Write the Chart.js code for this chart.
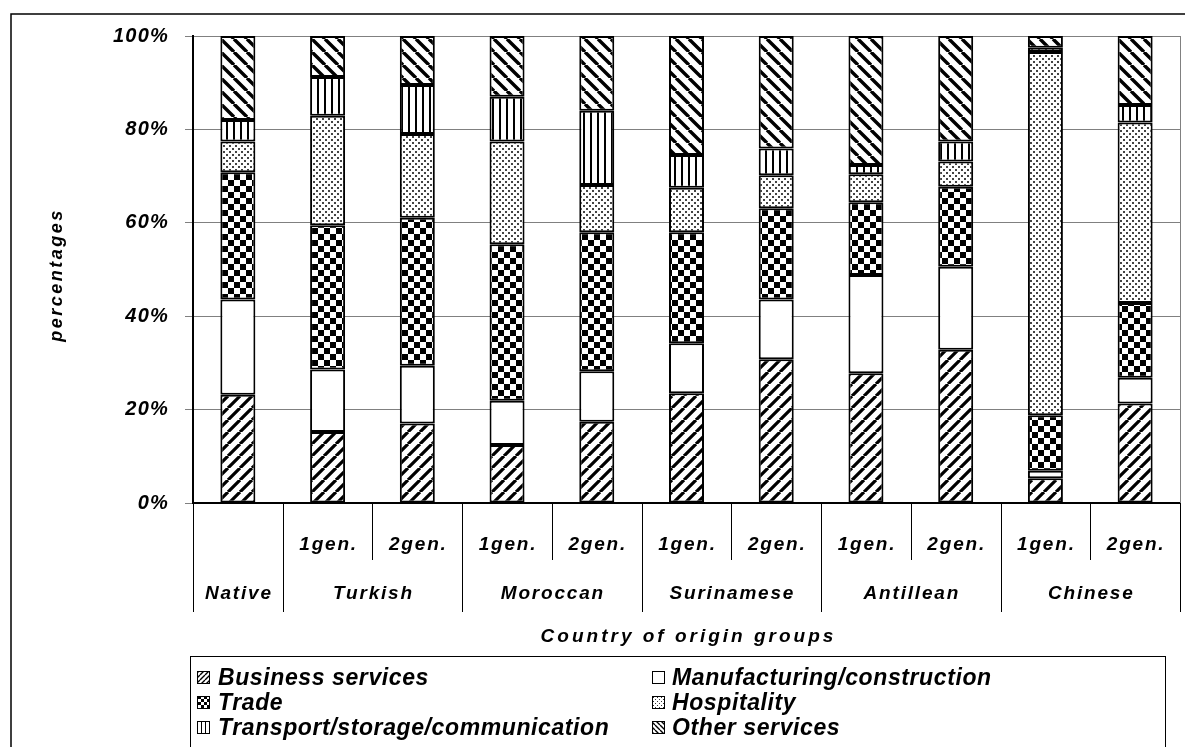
<!DOCTYPE html>
<html><head><meta charset="utf-8">
<script src="https://cdn.jsdelivr.net/npm/chart.js@4"></script>
<style>html,body{margin:0;padding:0;background:#fff}canvas{display:block}</style>
</head><body>
<canvas id="c" width="1185" height="747"></canvas>
<script>
// ---- data ----
const categories = ['Native','Turkish 1gen.','Turkish 2gen.','Moroccan 1gen.','Moroccan 2gen.','Surinamese 1gen.','Surinamese 2gen.','Antillean 1gen.','Antillean 2gen.','Chinese 1gen.','Chinese 2gen.'];
const generationLabels = ['', '1gen.', '2gen.', '1gen.', '2gen.', '1gen.', '2gen.', '1gen.', '2gen.', '1gen.', '2gen.'];
const groupLabels = ['Native','Turkish','Moroccan','Surinamese','Antillean','Chinese'];
const groupSizes = [1,2,2,2,2,2];
const seriesNames = ['Business services','Manufacturing/construction','Trade','Hospitality','Transport/storage/communication','Other services'];
const businessServices = [23.2,15.2,17.0,12.4,17.4,23.5,30.8,27.8,32.8,5.3,21.3];
const manufacturing    = [20.4,13.4,12.4,9.5,10.8,10.7,12.8,21.0,17.8,1.6,5.5];
const trade            = [27.2,30.9,31.7,33.5,29.8,23.8,19.5,15.6,17.1,11.9,16.0];
const hospitality      = [6.6,23.4,17.9,22.0,10.1,9.5,7.1,6.0,5.4,77.8,38.7];
const transport        = [4.6,8.3,10.5,9.6,15.9,7.0,5.7,2.0,4.3,0.9,3.7];
const otherServices    = [18.0,8.8,10.5,13.0,16.0,25.5,24.1,27.6,22.6,2.5,14.8];
const yTickStep = 20;
const xAxisTitle = 'Country of origin groups';
const yAxisTitle = 'percentages';

// ---- patterns ----
const cv = document.getElementById('c');
const ctx0 = cv.getContext('2d');
function tile(w,h,draw){const c=document.createElement('canvas');c.width=w;c.height=h;const g=c.getContext('2d');g.fillStyle='#fff';g.fillRect(0,0,w,h);draw(g,w,h);return ctx0.createPattern(c,'repeat');}
function diag(s,lw,dir){return tile(s,s,g=>{g.strokeStyle='#000';g.lineWidth=lw;g.beginPath();for(let k=-1;k<=1;k++){if(dir>0){g.moveTo(k*s,s);g.lineTo(k*s+s,0);}else{g.moveTo(k*s,0);g.lineTo(k*s+s,s);}}g.stroke();});}
function checker(c){return tile(2*c,2*c,g=>{g.fillStyle='#000';g.fillRect(0,0,c,c);g.fillRect(c,c,c,c);});}
function dots(s,d,col){return tile(s,s,g=>{g.fillStyle=col;g.fillRect(1,1,d,d);g.fillRect(1+s/2,1+s/2,d,d);});}
function vlines(s,lw){return tile(s,s,g=>{g.fillStyle='#000';g.fillRect(Math.floor(s/2)-1,0,lw,s);});}
function plain(){return '#ffffff';}
const barFills = [diag(12,3.2,1), plain(), checker(6), dots(6,2,'#444'), vlines(7,2), diag(13,3.4,-1)];
const legendFills = [diag(5,1.4,1), plain(), checker(3), dots(4,1,'#333'), vlines(4,1), diag(5,1.4,-1)];
const seriesData = [businessServices, manufacturing, trade, hospitality, transport, otherServices];

const FONT = '"Liberation Sans", Arial, sans-serif';
function f(size){return 'italic bold '+size+'px '+FONT;}

const decor = {
  id:'decor',
  beforeDraw(chart){ chart.ctx.letterSpacing='1.2px'; },
  afterDraw(chart){
    const {ctx, chartArea:a, scales:{x}} = chart;
    ctx.save();
    ctx.letterSpacing='0px';
    // outer frame
    ctx.strokeStyle='#000'; ctx.lineWidth=1.5;
    ctx.beginPath(); ctx.moveTo(11,747); ctx.lineTo(11,14); ctx.lineTo(1185,14); ctx.stroke();
    // right plot border
    ctx.strokeStyle='#808080'; ctx.lineWidth=1;
    ctx.beginPath(); ctx.moveTo(a.right+0.5,a.top); ctx.lineTo(a.right+0.5,a.bottom); ctx.stroke();
    // category dividers
    const px = i => x.getPixelForValue(i);
    const bound = i => i<=0 ? a.left : (i>=categories.length ? a.right : (px(i-1)+px(i))/2);
    ctx.strokeStyle='#000'; ctx.lineWidth=1;
    let start=0; const groupStarts=[];
    groupSizes.forEach(n=>{groupStarts.push(start); start+=n;});
    groupStarts.push(categories.length);
    for(let i=0;i<=categories.length;i++){
      const xb=Math.round(bound(i))+0.5;
      const isGroup = groupStarts.includes(i);
      ctx.beginPath(); ctx.moveTo(xb,a.bottom); ctx.lineTo(xb, isGroup?612:560); ctx.stroke();
    }
    ctx.fillStyle='#000'; ctx.textAlign='center'; ctx.textBaseline='middle';
    ctx.letterSpacing='1.8px';
    ctx.font=f(19);
    generationLabels.forEach((t,i)=>{ if(t) ctx.fillText(t, px(i)+1, 545); });
    groupLabels.forEach((t,g)=>{
      const s=groupStarts[g], e=groupStarts[g+1]-1;
      ctx.fillText(t, (px(s)+px(e))/2+1, 594);
    });
    ctx.letterSpacing='3px';
    ctx.font=f(19);
    ctx.fillText(xAxisTitle, (a.left+a.right)/2+2, 637);
    // y title
    ctx.save(); ctx.translate(57,275); ctx.rotate(-Math.PI/2);
    ctx.font=f(18); ctx.letterSpacing='2.5px';
    ctx.fillText(yAxisTitle,0,0); ctx.restore();
    // legend box
    ctx.letterSpacing='0.6px';
    ctx.strokeStyle='#000'; ctx.lineWidth=1;
    ctx.strokeRect(190.5,656.5,975,120);
    const cols=[[197,218],[652,672]], rows=[678,703,728];
    ctx.textAlign='left'; ctx.font=f(23);
    seriesNames.forEach((n,i)=>{
      const c=cols[i%2], r=rows[Math.floor(i/2)];
      ctx.fillStyle=legendFills[i]; ctx.fillRect(c[0],r-7,13,13);
      ctx.strokeStyle='#000'; ctx.lineWidth=1; ctx.strokeRect(c[0]+0.5,r-6.5,12,12);
      ctx.fillStyle='#000'; ctx.fillText(n,c[1],r+1);
    });
    ctx.restore();
  }
};

new Chart(cv, {
  type:'bar',
  data:{
    labels: categories,
    datasets: seriesNames.map((n,i)=>({
      label:n, data:seriesData[i], backgroundColor:barFills[i],
      borderColor:'#000', borderWidth:2, borderSkipped:false,
      barPercentage:0.39, categoryPercentage:1
    }))
  },
  options:{
    responsive:false, animation:false, devicePixelRatio:1,
    layout:{padding:{top:36,right:5,left:0,bottom:0}},
    plugins:{legend:{display:false}, tooltip:{enabled:false}},
    scales:{
      x:{stacked:true, ticks:{display:false}, grid:{display:false},
         border:{color:'#000',width:2}, afterFit(s){s.height=244;}},
      y:{stacked:true, min:0, max:100,
         ticks:{stepSize:yTickStep, callback:v=>v+'%', color:'#000', padding:16,
                font:{family:'"Liberation Sans", Arial, sans-serif', size:20, style:'italic', weight:'bold'}},
         grid:{color:'#808080', lineWidth:1, tickLength:8, tickColor:'#808080'},
         border:{color:'#000', width:2}, afterFit(s){s.width=193;}}
    }
  },
  plugins:[decor]
});
</script>
</body></html>
